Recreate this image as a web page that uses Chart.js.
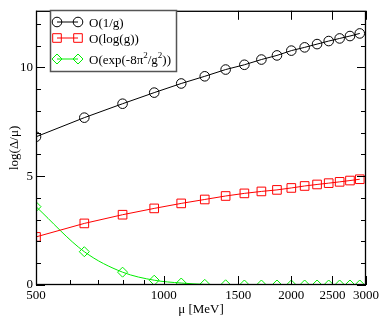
<!DOCTYPE html>
<html><head><meta charset="utf-8">
<script src="https://cdn.jsdelivr.net/npm/chart.js@4/dist/chart.umd.min.js"></script>
<style>html,body{margin:0;padding:0;background:#fff;}#wrap{width:382px;height:317px;}</style>
</head><body><div id="wrap"><canvas id="c" width="382" height="317"></canvas></div>
<script>
const mu = [500,650,800,950,1100,1250,1400,1550,1700,1850,2000,2150,2300,2450,2600,2750,2900];
const seriesInvG = [6.81,7.69,8.33,8.84,9.26,9.59,9.90,10.12,10.36,10.55,10.77,10.92,11.07,11.21,11.33,11.44,11.56];
const seriesLogG = [2.21,2.83,3.23,3.52,3.75,3.93,4.09,4.21,4.30,4.37,4.46,4.55,4.62,4.68,4.74,4.80,4.86];
const seriesExp = [3.60,1.53,0.59,0.22,0.09,0.03,0.01,0.0,0.0,0.0,0.0,0.0,0.0,0.0,0.0,0.0,0.0];
const xTickLabels = [500,1000,1500,2000,2500,3000];
const xMinorTicks = [600,700,800,900];
const yTickLabels = [0,5,10];
const yMinorTicks = [1,2,3,4,6,7,8,9,11,12];
const seriesNames = ['O(1/g)','O(log(g))','O(exp(-8π²/g²))'];

const FONT = '"Liberation Serif","DejaVu Serif",serif';
const pts = arr => mu.map((m,i)=>({x:m,y:arr[i]}));

const frame = {
  id:'frame',
  afterDraw(chart){
    const {ctx, chartArea:a, scales:{x,y}} = chart;
    ctx.save();
    ctx.strokeStyle='#000'; ctx.lineWidth=1.3;
    ctx.strokeRect(a.left+0.5,a.top+0.5,a.right-a.left-1,a.bottom-a.top-1);
    ctx.lineWidth=1;
    ctx.beginPath();
    const tx=(v,len)=>{const p=Math.round(x.getPixelForValue(v))+0.5;ctx.moveTo(p,a.bottom);ctx.lineTo(p,a.bottom-len);ctx.moveTo(p,a.top);ctx.lineTo(p,a.top+len);};
    const ty=(v,len)=>{const p=Math.round(y.getPixelForValue(v))+0.5;ctx.moveTo(a.left,p);ctx.lineTo(a.left+len,p);ctx.moveTo(a.right,p);ctx.lineTo(a.right-len,p);};
    xTickLabels.forEach(v=>tx(v,9)); xMinorTicks.forEach(v=>tx(v,5));
    yTickLabels.forEach(v=>ty(v,9)); yMinorTicks.forEach(v=>ty(v,5));
    ctx.stroke();
    // legend
    const bx=50,by=10,bw=126,bh=61;
    ctx.fillStyle='#fff'; ctx.fillRect(bx,by,bw,bh);
    ctx.strokeStyle='#555'; ctx.lineWidth=1.5;
    ctx.strokeRect(bx+0.5,by+0.5,bw,bh);
    const rows=[22,38,59];
    const ds=chart.data.datasets;
    rows.forEach((ry,i)=>{
      const d=ds[i];
      ctx.strokeStyle=d.borderColor; ctx.lineWidth=1;
      ctx.beginPath(); ctx.moveTo(57,ry); ctx.lineTo(78,ry); ctx.stroke();
      [57,78].forEach(cx=>{
        ctx.beginPath();
        if(i===0){ctx.arc(cx,ry,4.8,0,Math.PI*2);}
        else if(i===1){ctx.rect(cx-4.3,ry-4.3,8.6,8.6);}
        else {ctx.moveTo(cx,ry-5);ctx.lineTo(cx+5,ry);ctx.lineTo(cx,ry+5);ctx.lineTo(cx-5,ry);ctx.closePath();}
        ctx.stroke();
      });
      ctx.fillStyle='#000'; ctx.textBaseline='alphabetic'; ctx.textAlign='left';
      const base=ry+4.5;
      if(i<2){ctx.font='13px '+FONT; ctx.fillText(seriesNames[i],89,base);}
      else {
        const parts=[['O(exp(-8π',0],['2',1],['/g',0],['2',1],['))',0]];
        let px=89;
        parts.forEach(([t,s])=>{
          ctx.font=(s?'9px ':'13px ')+FONT;
          ctx.fillText(t,px,s?base-6:base);
          px+=ctx.measureText(t).width;
        });
      }
    });
    ctx.restore();
  }
};

new Chart(document.getElementById('c'),{
  type:'line',
  data:{datasets:[
    {label:seriesNames[0],data:pts(seriesInvG),borderColor:'#000',backgroundColor:'rgba(0,0,0,0)',borderWidth:1,pointStyle:'circle',pointRadius:4.8,pointBorderWidth:1,tension:0},
    {label:seriesNames[1],data:pts(seriesLogG),borderColor:'#ff0000',backgroundColor:'rgba(0,0,0,0)',borderWidth:1,pointStyle:'rect',pointRadius:6.1,pointBorderWidth:1,tension:0},
    {label:seriesNames[2],data:pts(seriesExp),borderColor:'#00ee00',backgroundColor:'rgba(0,0,0,0)',borderWidth:1,pointStyle:'rectRot',pointRadius:5,pointBorderWidth:1,cubicInterpolationMode:'monotone'}
  ]},
  options:{
    responsive:false,animation:false,
    layout:{padding:{top:2,right:16,left:0,bottom:0}},
    plugins:{legend:{display:false},tooltip:{enabled:false}},
    scales:{
      x:{type:'logarithmic',min:500,max:3000,
        afterBuildTicks:s=>{s.ticks=xTickLabels.map(v=>({value:v}));},
        afterFit:s=>{s.height=32;},
        grid:{display:false,drawTicks:false},border:{display:false},
        ticks:{autoSkip:false,maxRotation:0,padding:3,color:'#000',font:{family:FONT,size:13},callback:v=>String(v)},
        title:{display:true,text:'μ [MeV]',color:'#000',font:{family:FONT,size:13},padding:{top:-2,bottom:0}}
      },
      y:{type:'linear',min:0,max:12.6,
        afterBuildTicks:s=>{s.ticks=yTickLabels.map(v=>({value:v}));},
        afterFit:s=>{s.width=36;},
        grid:{display:false,drawTicks:false},border:{display:false},
        ticks:{padding:3,color:'#000',font:{family:FONT,size:13},callback:v=>String(v)},
        title:{display:true,text:'log(Δ/μ)',color:'#000',font:{family:FONT,size:13},padding:{top:7,bottom:0}}
      }
    }
  },
  plugins:[frame]
});
</script></body></html>
